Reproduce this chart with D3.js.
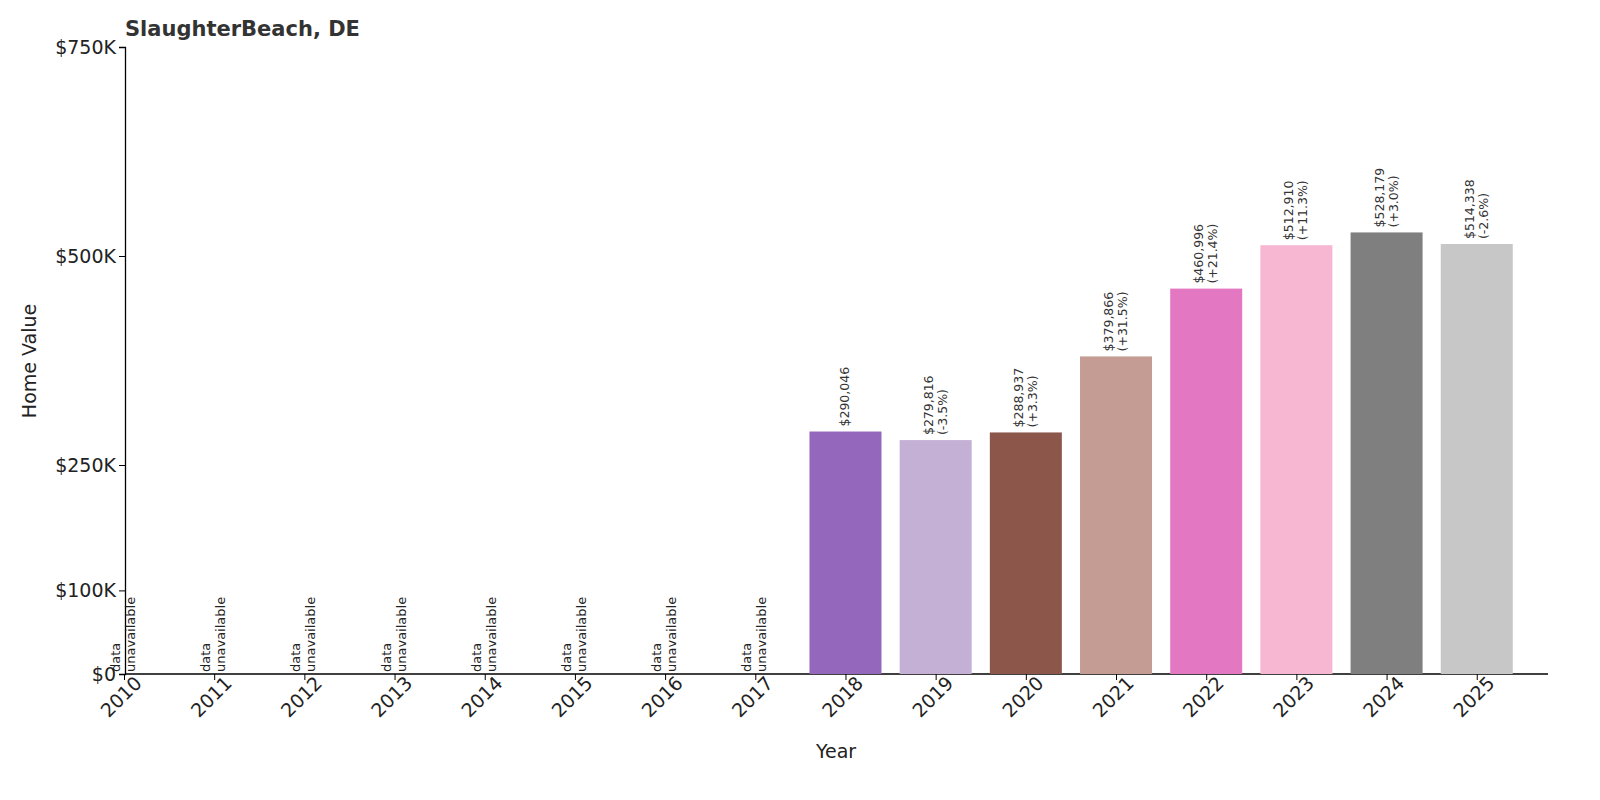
<!DOCTYPE html>
<html><head><meta charset="utf-8">
<script src="https://cdn.jsdelivr.net/npm/d3@7"></script>
<style>body{margin:0;background:#fff}text{font-family:"DejaVu Sans",sans-serif}</style>
</head><body><svg id="c" width="1600" height="800"></svg>
<script>
const years=["2010","2011","2012","2013","2014","2015","2016","2017","2018","2019","2020","2021","2022","2023","2024","2025"];
const values=[null,null,null,null,null,null,null,null,290046,279816,288937,379866,460996,512910,528179,514338];
const changes=[null,null,null,null,null,null,null,null,null,"-3.5%","+3.3%","+31.5%","+21.4%","+11.3%","+3.0%","-2.6%"];
const colors=["#1f77b4","#ff7f0e","#2ca02c","#d62728","#9467bd","#8c564b","#e377c2","#7f7f7f","#9467bd","#c5b0d5","#8c564b","#c49c94","#e377c2","#f7b6d2","#7f7f7f","#c7c7c7"];
const yTicks=[0,100000,250000,500000,750000];
const yTickLabels=["$0","$100K","$250K","$500K","$750K"];

const svg=d3.select("#c");
const x=d3.scaleLinear().domain([0,15.79]).range([124,1548]);
const y=d3.scaleLinear().domain([0,750000]).range([674,47]);
const bw=72;
const fmt=d3.format(",");

svg.append("text").attr("x",125).attr("y",36).attr("font-size",21).attr("font-weight","bold").attr("fill","#333").text("SlaughterBeach, DE");

const ya=svg.append("g").attr("transform","translate(125,0)")
 .call(d3.axisLeft(y).tickValues(yTicks).tickFormat((d,i)=>yTickLabels[i]).tickSizeOuter(0).tickSize(6));
ya.selectAll("text").attr("font-size",19).attr("fill","#222").attr("font-family","DejaVu Sans");
ya.select(".domain").attr("stroke","#000").attr("stroke-width",1.3);

const xa=svg.append("g").attr("transform","translate(0,674)")
 .call(d3.axisBottom(x).tickValues(d3.range(16)).tickFormat(i=>years[i]).tickSizeOuter(0).tickSize(6));
xa.select(".domain").attr("d","M125,0H1548").attr("stroke","#000").attr("stroke-width",1.3);
xa.selectAll("text").attr("font-size",19).attr("fill","#222").attr("font-family","DejaVu Sans")
 .attr("text-anchor","end").attr("dx","0.3em").attr("dy","0.6em").attr("transform","rotate(-45)");

svg.append("text").attr("x",836).attr("y",758).attr("text-anchor","middle").attr("font-size",19).attr("fill","#222").text("Year");
svg.append("text").attr("transform","translate(36,361) rotate(-90)").attr("text-anchor","middle").attr("font-size",19).attr("fill","#222").text("Home Value");

years.forEach((yr,i)=>{
 const cx=x(i);
 if(values[i]==null){
  const t=svg.append("text").attr("transform",`translate(${cx},672) rotate(-90)`).attr("font-size",13).attr("fill","#222");
  t.append("tspan").attr("x",0).attr("dy",-4).text("data");
  t.append("tspan").attr("x",0).attr("dy",15).text("unavailable");
 } else {
  svg.append("rect").attr("x",cx-bw/2).attr("width",bw).attr("y",y(values[i])).attr("height",674-y(values[i])).attr("fill",colors[i]);
  const t=svg.append("text").attr("transform",`translate(${cx},${y(values[i])-5}) rotate(-90)`).attr("font-size",12.5).attr("fill","#333");
  if(changes[i]){
   t.append("tspan").attr("x",0).attr("dy",-3).text("$"+fmt(values[i]));
   t.append("tspan").attr("x",0).attr("dy",14).text("("+changes[i]+")");
  } else {
   t.append("tspan").attr("x",0).attr("dy",4).text("$"+fmt(values[i]));
  }
 }
});
</script></body></html>
